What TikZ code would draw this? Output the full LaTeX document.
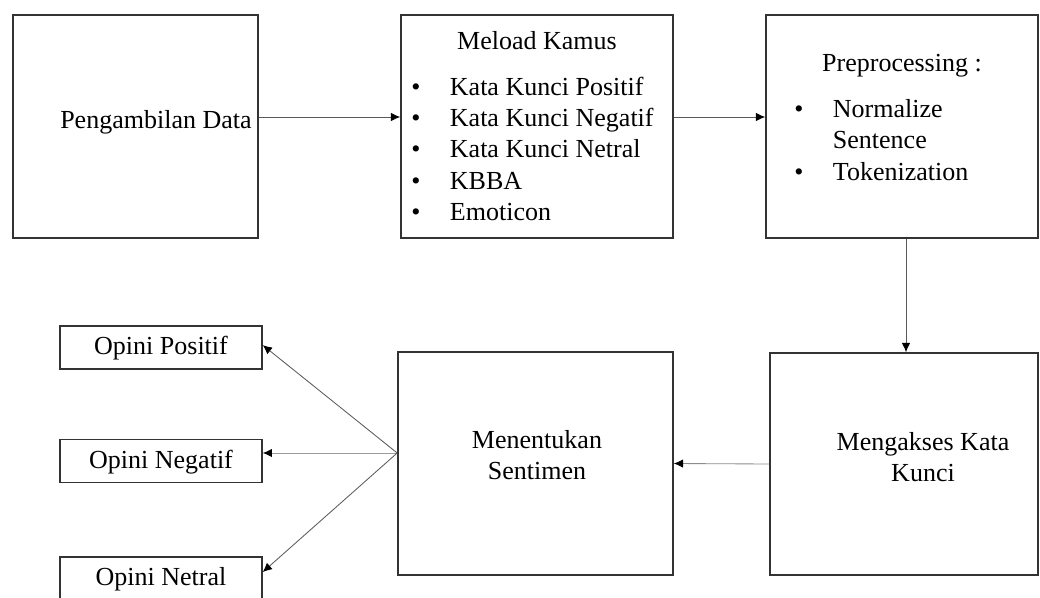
\documentclass[tikz,border=0pt]{standalone}
\usepackage{fontspec}
\setmainfont{Liberation Serif}
\usetikzlibrary{arrows.meta}
\definecolor{boxline}{HTML}{333333}
\definecolor{arrowline}{HTML}{5A5A5A}

\begin{document}
\begin{tikzpicture}[x=0.025cm, y=-0.025cm]
	\tikzstyle{bigbox}=[draw=boxline, line width=1.1pt, minimum height=5.575cm, inner sep=0pt]
	\tikzstyle{opinibox}=[draw=boxline, line width=1pt, minimum width=5.05cm, minimum height=1.075cm, inner sep=0pt, text depth=0.1cm, font=\fontsize{18.5}{22}\selectfont]
	\tikzstyle{txt}=[inner sep=0pt, font=\fontsize{18.5}{22.3}\selectfont]
	\tikzstyle{flow}=[-{Latex[length=2.3mm,width=2.1mm,color=black]}, line width=0.6pt, arrowline]
	\useasboundingbox (0,0) rectangle (1040,598);
	%%% TOP ROW %%%
	%pengambilan data
	\node[bigbox, minimum width=6.125cm] (ambil) at (135.5,126.5) {};
	\node[txt] (ambiltxt) at (156,122) {Pengambilan Data};
	%meload kamus
	\node[bigbox, minimum width=6.8cm] (kamus) at (537,126.5) {};
	\node[txt] (kamustitle) at (537,41) {Meload Kamus};
	\node[txt, anchor=west] (kamuslist) at (411,151.5) {\begin{tabular}{@{}l@{\hspace{21pt}}l@{}}
		\textbullet & Kata Kunci Positif\\
		\textbullet & Kata Kunci Negatif\\
		\textbullet & Kata Kunci Netral\\
		\textbullet & KBBA\\
		\textbullet & Emoticon
	\end{tabular}};
	%preprocessing
	\node[bigbox, minimum width=6.8cm] (prepro) at (902,126.5) {};
	\node[txt] (preprotitle) at (902,66) {Preprocessing :};
	\node[txt, anchor=west] (preprolist) at (794,142.5) {\begin{tabular}{@{}l@{\hspace{21pt}}l@{}}
		\textbullet & Normalize\\
		 & Sentence\\
		\textbullet & Tokenization
	\end{tabular}};
	%%% BOTTOM ROW %%%
	%mengakses kata kunci
	\node[bigbox, minimum width=6.7cm, minimum height=5.55cm] (akses) at (904,464) {};
	\node[txt, align=center] (aksestxt) at (923,457) {Mengakses Kata\\Kunci};
	%menentukan sentimen
	\node[bigbox, minimum width=6.875cm] (sentimen) at (535.5,463.5) {};
	\node[txt, align=center] (sentimentxt) at (537,455) {Menentukan\\Sentimen};
	%opini boxes
	\node[opinibox] (positif) at (161,347.5) {Opini Positif};
	\node[opinibox] (negatif) at (161,461) {Opini Negatif};
	\node[opinibox] (netral) at (161,578.5) {Opini Netral};
	%%% ARROWS %%%
	\coordinate (toprow) at (0,117);
	\coordinate (split) at (sentimen.west |- 0,453);
	%arrow ambil to kamus
	\draw[flow] (ambil.east |- toprow) -- (kamus.west |- toprow);
	%arrow kamus to prepro
	\draw[flow] (kamus.east |- toprow) -- (prepro.west |- toprow);
	%arrow prepro down to akses
	\draw[flow] ([xshift=0.1cm]prepro.south) -- ([xshift=0.1cm]prepro.south |- akses.north);
	%arrow akses to sentimen
	\draw[flow, arrowline!70] (akses.west) -- (sentimen.east);
	%arrows sentimen to opini
	\draw[flow] (split) -- ([yshift=0.06cm]positif.east);
	\draw[flow, arrowline!60] (split) -- (negatif.east |- split);
	\draw[flow] (split) -- ([yshift=0.16cm]netral.east);
\end{tikzpicture}
\end{document}
